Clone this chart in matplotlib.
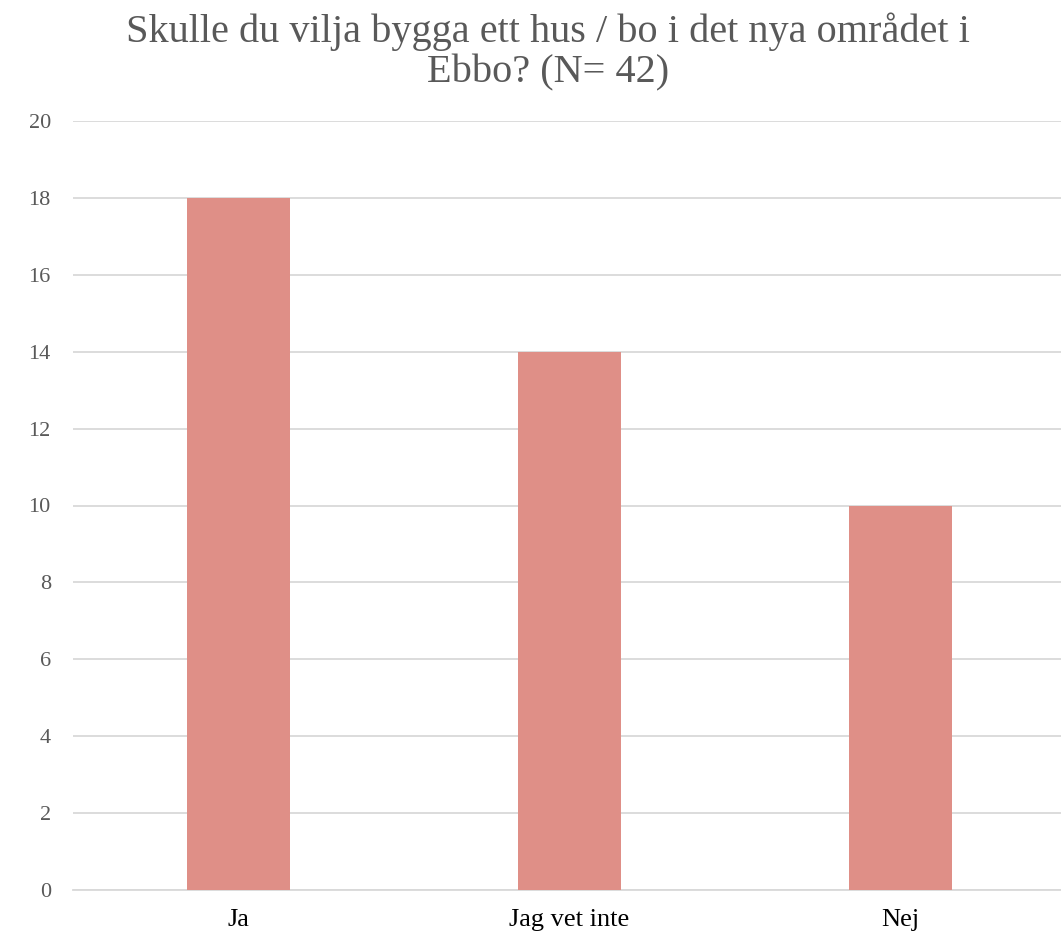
import matplotlib.pyplot as plt
import numpy as np

# svar och antal
categories = ["Ja", "Jag vet inte", "Nej"]
counts = [18, 14, 10]
yticks = [0, 2, 4, 6, 8, 10, 12, 14, 16, 18, 20]

plt.rcParams['font.family'] = ['Liberation Serif', 'DejaVu Serif']

fig = plt.figure(figsize=(10.61, 9.40), dpi=100)
ax = fig.add_axes([73 / 1061, 50 / 940, 988 / 1061, 769 / 940])

x = np.arange(len(categories))
ax.bar(x, counts, width=0.314, color='#DF8F87', zorder=3)

ax.set_xlim(-0.5, 2.485)
ax.set_ylim(0, 20)
ax.set_yticks(yticks)
ax.set_yticklabels([str(v) for v in yticks], fontsize=16, color='#595959')
ax.set_xticks(x)
ax.set_xticklabels(categories, fontsize=19, color='black')
ax.tick_params(axis='both', length=0)
ax.tick_params(axis='y', pad=16)
ax.tick_params(axis='x', pad=14)

ax.grid(axis='y', color='#D9D9D9', linewidth=1.3, zorder=0)
for s in ['top', 'right', 'left']:
    ax.spines[s].set_visible(False)
ax.spines['bottom'].set_color('#D9D9D9')
ax.spines['bottom'].set_linewidth(1.3)

fig.text(548 / 1061, 1 - 52 / 940,
         "Skulle du vilja bygga ett hus / bo i det nya området i\nEbbo? (N= 42)",
         ha='center', va='center', fontsize=29, color='#595959', linespacing=1.12)

fig.savefig("out.png", dpi=100)
